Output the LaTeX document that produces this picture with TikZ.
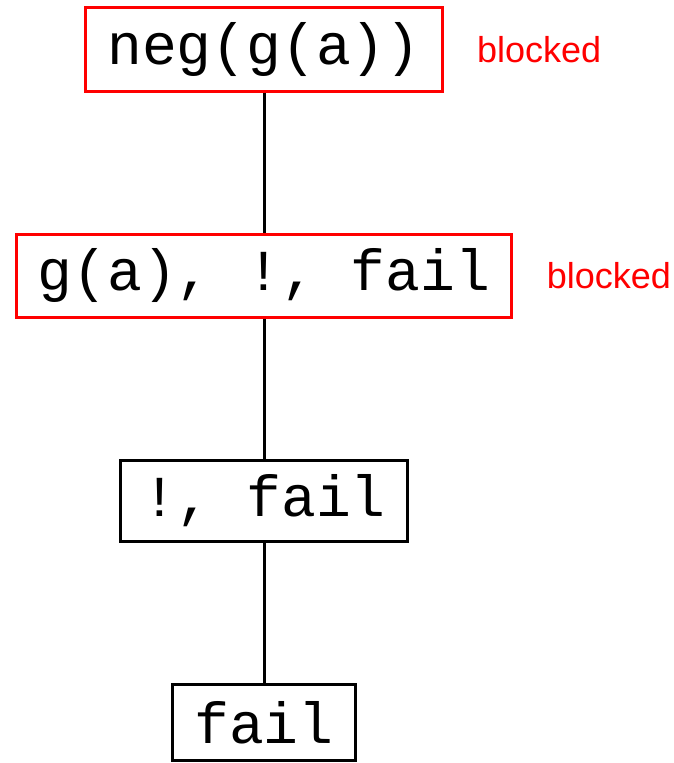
\documentclass[tikz,border=0pt]{standalone}
\usepackage{fontspec}
\setmonofont{Liberation Mono}
\setsansfont{Liberation Sans}
\usepackage{tikz}
\usetikzlibrary{positioning}

\begin{document}
\begin{tikzpicture}[
squarednode/.style={rectangle, draw=black, line width=3pt, inner xsep=21.5pt, inner ysep=14.5pt,
  minimum height=76pt, font=\ttfamily\fontsize{58}{60}\selectfont},
rednode/.style={squarednode, draw=red},
notenode/.style={text=red, font=\sffamily\fontsize{36}{38}\selectfont},
node distance=140pt,
]
\useasboundingbox (0,0) rectangle (674pt,-763pt);
%Nodes
\node[rednode]     (neg)  at (264pt,-49.5pt) {neg(g(a))};
\node[rednode]     (ga)   [below=of neg]  {g(a), !, fail};
\node[squarednode] (cut)  [below=of ga]   {!, fail};
\node[squarednode] (fail) [below=of cut]  {fail};
\node[notenode, anchor=west] (b1) [right=30pt of neg] {blocked};
\node[notenode, anchor=west] (b2) [right=30pt of ga]  {blocked};

%Lines
\draw[line width=3pt] (neg.south)--(ga.north);
\draw[line width=3pt] (ga.south) --(cut.north);
\draw[line width=3pt] (cut.south)--(fail.north);
\end{tikzpicture}
\end{document}
